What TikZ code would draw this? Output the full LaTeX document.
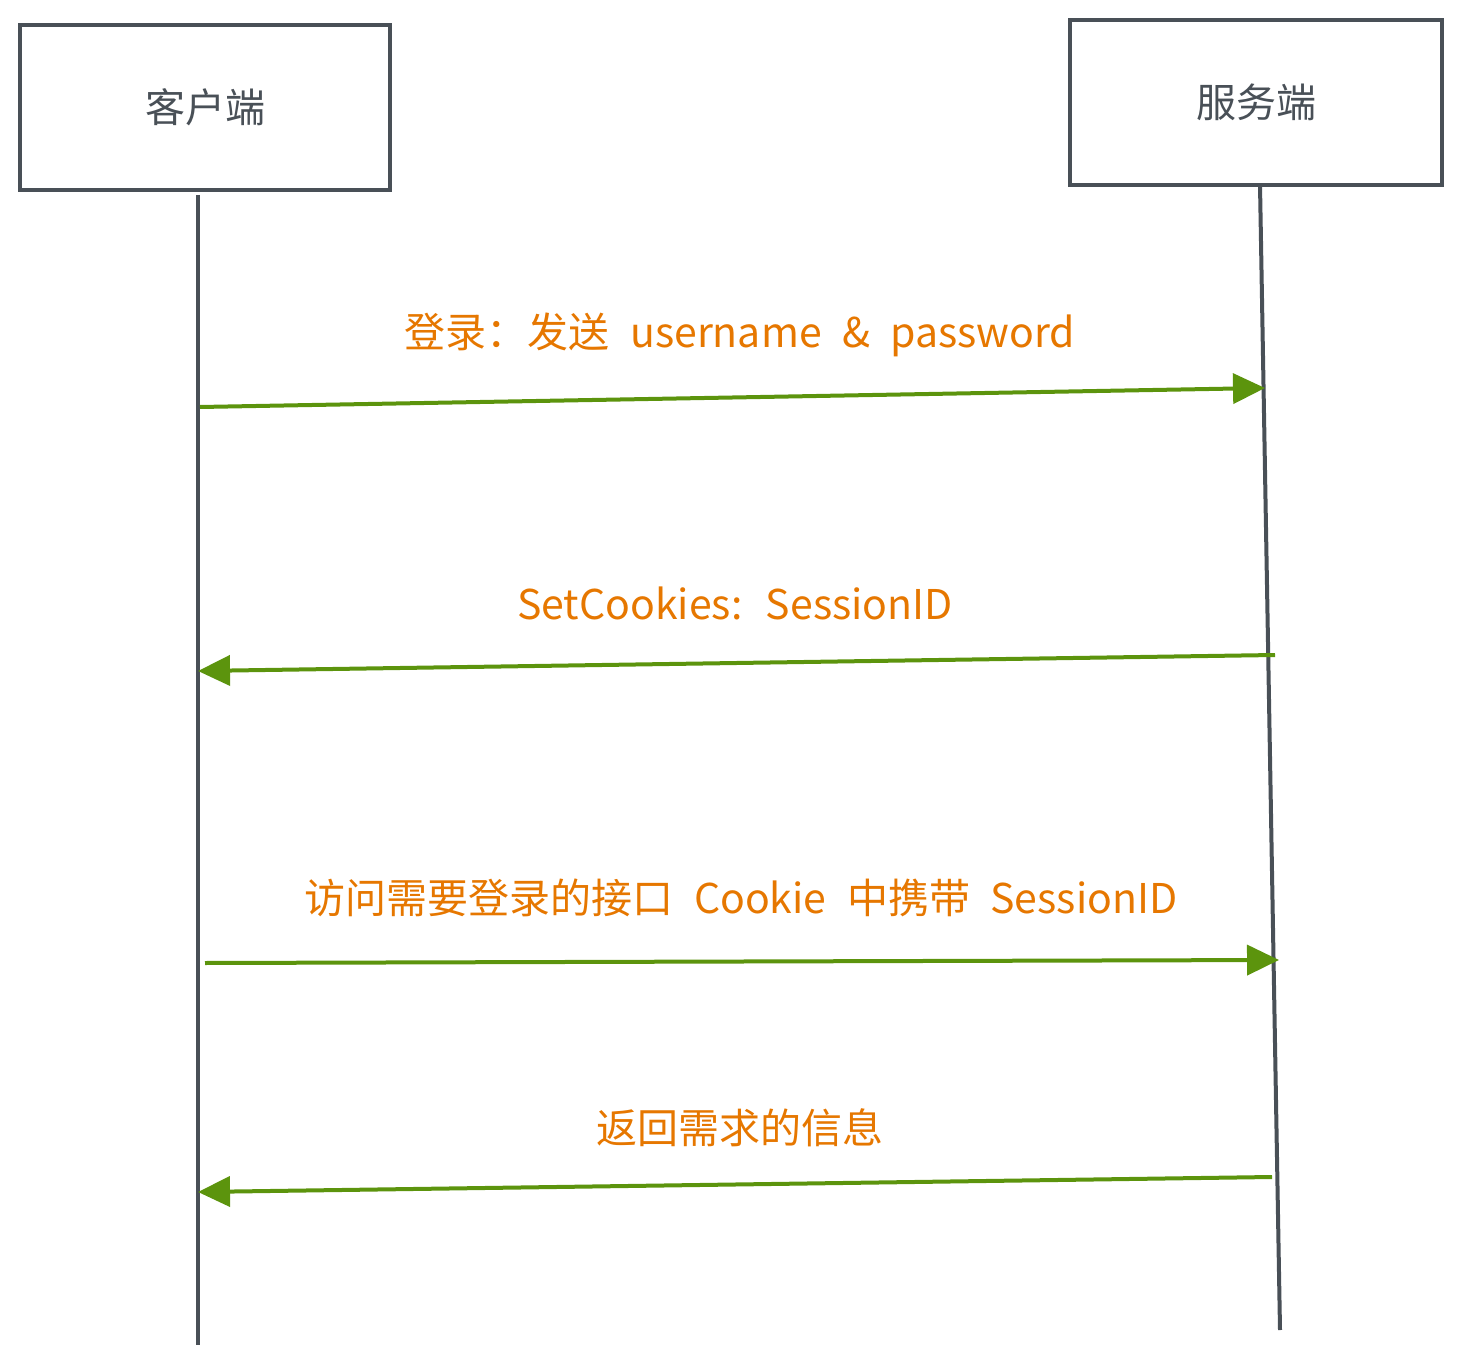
\documentclass[tikz,border=0pt]{standalone}
\usepackage{fontspec}
\setmainfont{Noto Sans CJK SC}
\usepackage{tikz}
\usetikzlibrary{arrows.meta,positioning}
\definecolor{seqink}{HTML}{495057}
\definecolor{seqgreen}{HTML}{5C940D}
\definecolor{seqorange}{HTML}{E67700}
\newcommand\lblfont{\fontsize{20.5}{24}\selectfont\spaceskip 0.5em plus 0.1em\relax}
\tikzset{
  actor/.style={draw=seqink, line width=2.4pt, fill=white, minimum height=82.5pt, font=\fontsize{20}{24}\selectfont, text=seqink, inner sep=0pt},
  life/.style={draw=seqink, line width=2pt},
  msg/.style={-{Triangle[length=16pt, width=15pt]}, draw=seqgreen, line width=2pt},
  lbl/.style={font=\lblfont, text=seqorange, inner sep=0pt},
}
\begin{document}
\begin{tikzpicture}[x=0.5pt,y=-0.5pt]
  \useasboundingbox (0,0) rectangle (1461,1363);
  % the two parties
  \node[actor, minimum width=185pt] (client) at (205,107.5) {客户端};
  \node[actor, minimum width=186pt] (server) at (1256,102.5) {服务端};
  % lifelines
  \coordinate (cltop) at (198,195);
  \coordinate (clbot) at (198,1345);
  \coordinate (svtop) at (1260,185);
  \coordinate (svbot) at (1280,1330);
  \draw[life] (cltop) -- (clbot);
  \draw[life] (svtop) -- (svbot);
  % messages
  \coordinate (m1a) at (200,407);  \coordinate (m1b) at (1265,388);
  \coordinate (m2a) at (1275,655); \coordinate (m2b) at (198,671);
  \coordinate (m3a) at (205,963);  \coordinate (m3b) at (1279,960);
  \coordinate (m4a) at (1272,1177); \coordinate (m4b) at (198,1192);
  \draw[msg] (m1a) -- (m1b);
  \draw[msg] (m2a) -- (m2b);
  \draw[msg] (m3a) -- (m3b);
  \draw[msg] (m4a) -- (m4b);
  \node[lbl] (login) at (740,335) {登录：发送 username \& password};
  \node[lbl] (cookie) at (735,603) {SetCookies: SessionID};
  \node[lbl] (visit) at (741,898) {访问需要登录的接口 Cookie 中携带 SessionID};
  \node[lbl] (reply) at (740,1128) {返回需求的信息};
\end{tikzpicture}
\end{document}
